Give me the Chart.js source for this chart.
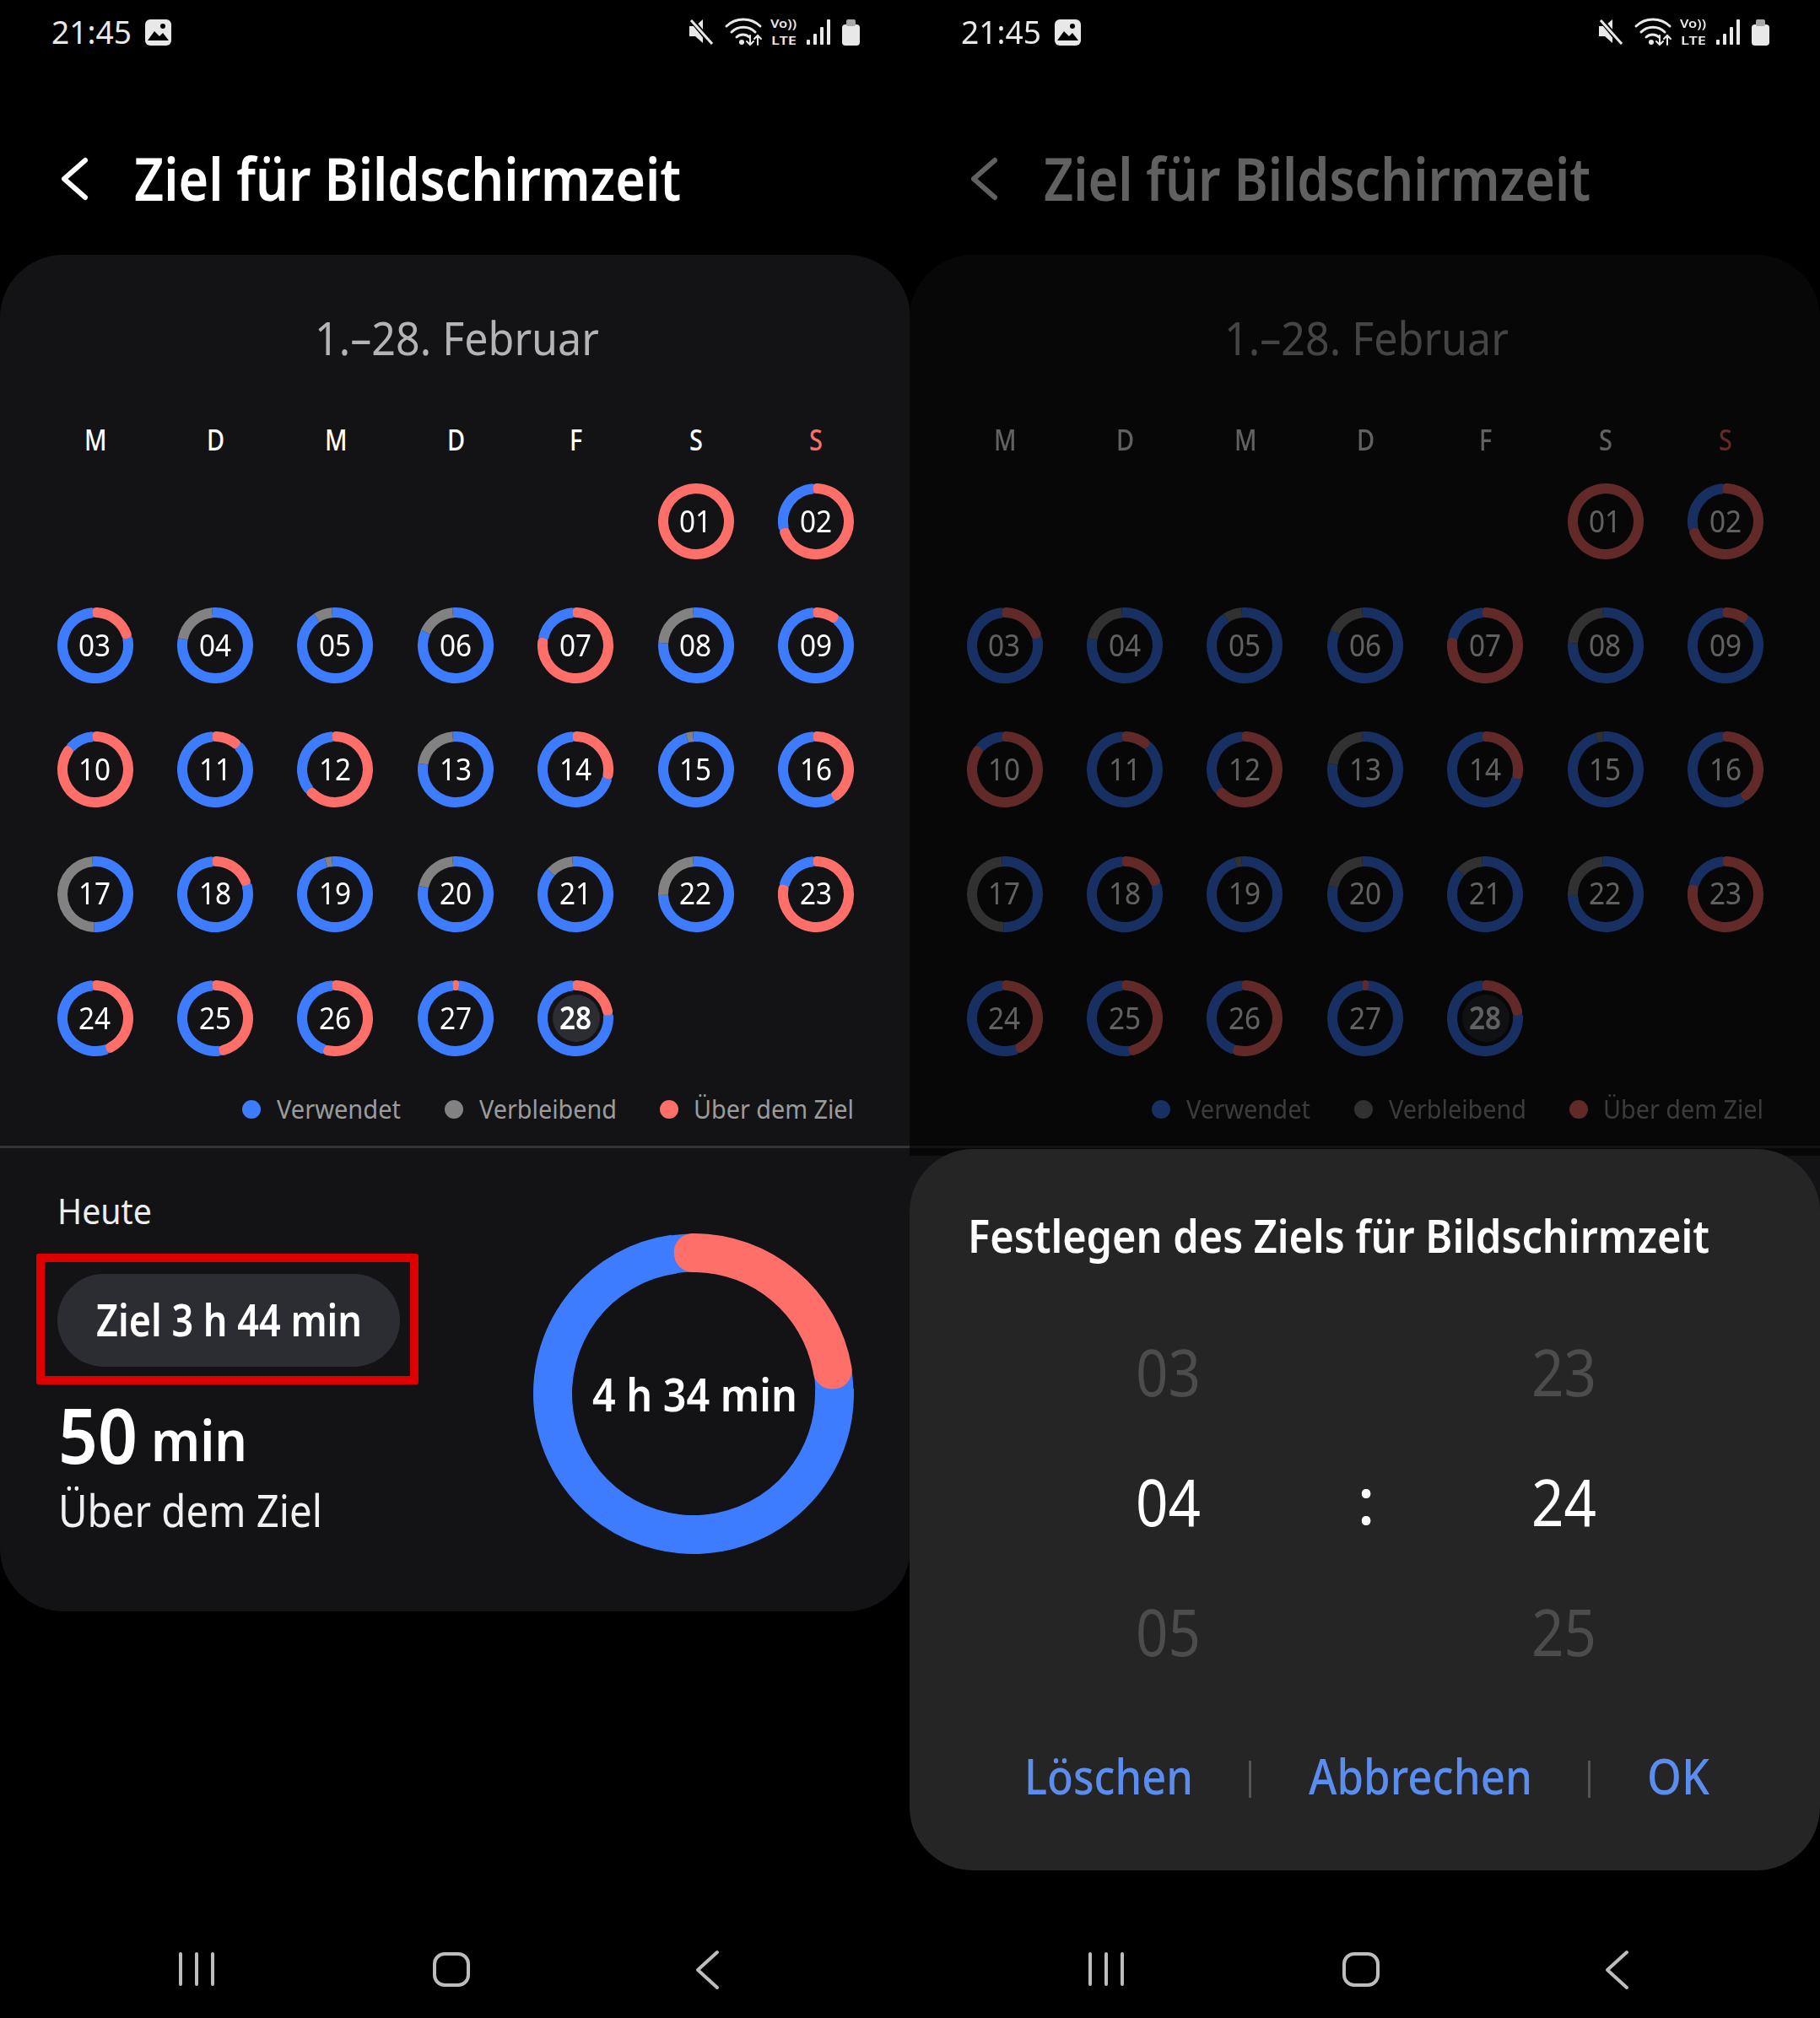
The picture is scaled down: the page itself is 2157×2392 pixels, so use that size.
<!DOCTYPE html>
<html lang="de">
<head>
<meta charset="utf-8">
<title>Ziel für Bildschirmzeit</title>
<script src="https://cdn.jsdelivr.net/npm/chart.js"></script>
<style>
    html, body { margin: 0; background: #000; }
    #page { position: relative; width: 2157px; height: 2392px; overflow: hidden; background: #000; font-family: "Noto Sans", sans-serif; }
    #page > * { position: absolute; }
    .txt { white-space: pre; line-height: 0; transform-origin: 0 50%; }
    canvas { position: absolute; }
</style>
</head>
<body>
<div id="page"></div>
<script>
// values, in percent of each ring
const days = ['01', '02', '03', '04', '05', '06', '07', '08', '09', '10', '11', '12', '13', '14',
    '15', '16', '17', '18', '19', '20', '21', '22', '23', '24', '25', '26', '27', '28'];
const overShare = [100, 73, 23, 0, 0, 0, 80, 0, 12.5, 88, 14, 66, 0, 31, 0, 43, 0, 22, 0, 0, 0, 0, 81, 46, 49.5, 57, 3, 25];
const usedShare = [0, 27, 77, 79.5, 92, 83, 20, 77.5, 87.5, 12, 86, 34, 79, 69, 97, 57, 52, 78, 97, 80, 88, 76, 19, 54, 50.5, 43, 97, 75];
const leftShare = [0, 0, 0, 20.5, 8, 17, 0, 22.5, 0, 0, 0, 0, 21, 0, 3, 0, 48, 0, 3, 20, 12, 24, 0, 0, 0, 0, 0, 0];
const todayShares = [26.7, 73.3, 0];

const weekdays = ['M', 'D', 'M', 'D', 'F', 'S', 'S'];
const legendLabels = ['Verwendet', 'Verbleibend', 'Über dem Ziel'];
const hourWheel = ['03', '04', '05'];
const minuteWheel = ['23', '24', '25'];

const BLUE = '#3d7bff';
const GREY = '#828282';
const RED = '#ff6f69';
const SCREEN2 = 1078;

const page = document.getElementById('page');

const box = (x, y, w, h, css) => {
    const el = document.createElement('div');
    el.style.cssText = `left:${x}px;top:${y}px;width:${w}px;height:${h}px;${css || ''}`;
    page.appendChild(el);
    return el;
};

// text placed by its cap-height centre, squeezed to the width seen in the screenshot
const txt = (str, x, cy, size, color, opt = {}) => {
    const el = document.createElement('div');
    el.className = 'txt';
    el.textContent = str;
    el.style.cssText = `top:${cy - 0.03 * size}px;font-size:${size}px;color:${color};font-weight:${opt.weight || 400}`;
    page.appendChild(el);
    const natural = el.getBoundingClientRect().width;
    const sx = opt.w ? opt.w / natural : (opt.sx || 1);
    const left = opt.center ? x - natural * sx / 2 : x;
    el.style.left = left + 'px';
    el.style.transform = `scaleX(${sx})`;
    return el;
};

// blue ring under the arcs, so the rounded red ends sit on blue
const ringUnderlay = {
    id: 'ringUnderlay',
    beforeDatasetsDraw(chart) {
        const shares = chart.data.datasets[0].data;
        if (!(shares[0] > 0 && shares[0] < 100)) return;
        const arc = chart.getDatasetMeta(0).data[0];
        const { ctx } = chart;
        ctx.save();
        ctx.fillStyle = BLUE;
        ctx.beginPath();
        ctx.arc(arc.x, arc.y, arc.outerRadius - 0.5, 0, Math.PI * 2);
        ctx.arc(arc.x, arc.y, arc.innerRadius + 0.5, 0, Math.PI * 2, true);
        ctx.fill();
        ctx.restore();
    }
};

const ring = (shares, cx, cy, outer, inner, corner, rotation) => {
    const canvas = document.createElement('canvas');
    canvas.width = outer * 2;
    canvas.height = outer * 2;
    canvas.style.cssText = `left:${Math.round(cx - outer)}px;top:${Math.round(cy - outer)}px;width:${outer * 2}px;height:${outer * 2}px`;
    page.appendChild(canvas);
    new Chart(canvas.getContext('2d'), {
        type: 'doughnut',
        data: {
            labels: ['Über dem Ziel', 'Verwendet', 'Verbleibend'],
            datasets: [{
                data: shares,
                backgroundColor: [RED, BLUE, GREY],
                borderWidth: 0,
                borderRadius: [shares[0] < 100 ? corner : 0, 0, 0]
            }]
        },
        options: {
            responsive: false,
            animation: false,
            events: [],
            cutout: inner,
            rotation: rotation,
            plugins: { legend: { display: false }, tooltip: { enabled: false } }
        },
        plugins: [ringUnderlay]
    });
};

const statusIcons = `
    <rect x="172" y="23" width="31" height="31" rx="6" fill="#e8e8e8"/>
    <path d="M175 48 L183 37 L189 43 L193 39 L200 48 Z" fill="#000"/>
    <circle cx="193" cy="31" r="3" fill="#000"/>
    <path d="M817 31 h7 l9 -8 v28 l-9 -8 h-7 z" fill="#e8e8e8"/>
    <path d="M820 24 L844 53" stroke="#000" stroke-width="6"/>
    <path d="M819 24 L844 52" stroke="#e8e8e8" stroke-width="3"/>
    <g fill="none" stroke="#e8e8e8" stroke-width="3" stroke-linecap="round">
        <path d="M861 31 a29 29 0 0 1 40 0"/>
        <path d="M867 38 a20 20 0 0 1 28 0"/>
        <path d="M873 44 a11 11 0 0 1 15 0"/>
        <path d="M889 42 v11 m-4 -4 l4 4 l4 -4 M898 53 v-11 m-4 4 l4 -4 l4 4" stroke-width="2"/>
    </g>
    <circle cx="879" cy="50" r="3" fill="#e8e8e8"/>
    <g fill="#e8e8e8">
        <rect x="956" y="47" width="4" height="6" rx="1"/>
        <rect x="964" y="40" width="4" height="13" rx="1"/>
        <rect x="972" y="32" width="4" height="21" rx="1"/>
        <rect x="980" y="23" width="4" height="30" rx="1"/>
        <rect x="998" y="29" width="21" height="25" rx="4"/>
        <rect x="1003" y="23" width="11" height="8" rx="2" fill="#a8a8a8"/>
    </g>`;

const navIcons = `
    <g fill="none" stroke="#bdbdbd" stroke-width="4" stroke-linecap="round" stroke-linejoin="round">
        <path d="M214 2316 v36 M233 2316 v36 M252 2316 v36"/>
        <rect x="515" y="2316" width="40" height="37" rx="12"/>
        <path d="M850 2314 L827 2335 L850 2356"/>
    </g>`;

const drawIcons = (dx, extra) => {
    const ns = 'http://www.w3.org/2000/svg';
    const svg = document.createElementNS(ns, 'svg');
    svg.setAttribute('width', 2157);
    svg.setAttribute('height', 2392);
    svg.style.cssText = 'left:0;top:0';
    svg.innerHTML = `<g transform="translate(${dx} 0)">${statusIcons}${navIcons}${extra || ''}</g>`;
    page.appendChild(svg);
};

// one phone screen: status bar, title, calendar with rings, legend
const drawScreen = (dx) => {
    box(dx, 302, 1079, 1608, 'background:#131316;border-radius:75px');
    drawIcons(dx, '<path d="M101 190 L76 212 L101 234" fill="none" stroke="#fff" stroke-width="6" stroke-linecap="round" stroke-linejoin="round"/>');

    txt('21:45', dx + 61, 38, 38, '#e8e8e8', { w: 95 });
    txt('Vo))', dx + 913, 28, 14, '#e8e8e8', { w: 31, weight: 600 });
    txt('LTE', dx + 914, 48, 14, '#e8e8e8', { w: 30, weight: 600 });

    txt('Ziel für Bildschirmzeit', dx + 159, 213, 70, '#fff', { w: 648, weight: 600 });
    txt('1.–28. Februar', dx + 373, 402, 55, '#b4b4b4', { w: 337 });

    const colX = (col) => dx + 113 + 142.4 * col;
    const rowY = (row) => 618 + 147.2 * row;

    weekdays.forEach((d, col) => {
        txt(d, colX(col), 522, 34, col === 6 ? RED : '#fff', { center: true, sx: 0.85, weight: 500 });
    });

    days.forEach((day, i) => {
        const col = (i + 5) % 7;
        const row = Math.floor((i + 5) / 7);
        const isToday = i === days.length - 1;
        if (isToday) {
            box(colX(col) - 28, rowY(row) - 28, 56, 56, 'background:#2c2d32;border-radius:50%');
        }
        ring([overShare[i], usedShare[i], leftShare[i]], colX(col) - 0.5, rowY(row), 45, 33, 5, -5);
        txt(day, colX(col) - 0.5, rowY(row), 37, '#fff', { center: true, sx: 0.9, weight: isToday ? 600 : 400 });
    });

    // legend
    const dotX = [298, 538, 793];
    const labelX = [328, 568, 822];
    const labelW = [147, 163, 190];
    legendLabels.forEach((label, i) => {
        box(dx + dotX[i] - 11, 1304, 22, 22, `border-radius:50%;background:${[BLUE, GREY, RED][i]}`);
        txt(label, dx + labelX[i], 1315, 31, '#9c9c9c', { w: labelW[i] });
    });

    box(dx, 1358, 1079, 3, 'background:#343436');
};

drawScreen(0);

// today block, left screen only
txt('Heute', 68, 1436, 42, '#ececec', { w: 112 });
box(43, 1486, 433, 135, 'border:10px solid #de0000;border-radius:3px;box-sizing:content-box');
box(67.5, 1510, 406.5, 110, 'background:#2c2d32;border-radius:55px');
txt('Ziel 3 h 44 min', 114, 1566, 52, '#fff', { w: 315, weight: 600 });
txt('50', 69, 1703, 90, '#fff', { w: 94, weight: 600 });
txt('min', 179, 1708, 66, '#fff', { w: 114, weight: 600 });
txt('Über dem Ziel', 69, 1792, 52, '#f0f0f0', { w: 313 });
ring(todayShares, 822, 1652, 190, 144, 22.5, -8);
txt('4 h 34 min', 702, 1654, 54, '#fff', { w: 243, weight: 600 });

drawScreen(SCREEN2);

// right screen is dimmed behind the dialog
box(SCREEN2, 80, 1079, 1290, 'background:rgba(0,0,0,0.62)');
box(SCREEN2, 1362, 1079, 855, 'background:#252525;border-radius:75px');

txt('Festlegen des Ziels für Bildschirmzeit', 1147, 1466, 54, '#fff', { w: 879, weight: 600 });

const wheelY = [1628, 1782, 1936];
const wheelColor = ['#4c4c4c', '#fff', '#4c4c4c'];
wheelY.forEach((y, i) => {
    txt(hourWheel[i], 1346, y, 76, wheelColor[i], { w: 77 });
    txt(minuteWheel[i], 1815, y, 76, wheelColor[i], { w: 77 });
});
txt(':', 1619, 1780, 76, '#fff', { center: true, weight: 500 });

txt('Löschen', 1214, 2107, 58, '#5b8def', { w: 200, weight: 500 });
txt('Abbrechen', 1551, 2107, 58, '#5b8def', { w: 265, weight: 500 });
txt('OK', 1952, 2107, 58, '#5b8def', { w: 74, weight: 500 });
box(1480, 2087, 3, 44, 'background:#555');
box(1882, 2087, 3, 44, 'background:#555');
</script>
</body>
</html>
